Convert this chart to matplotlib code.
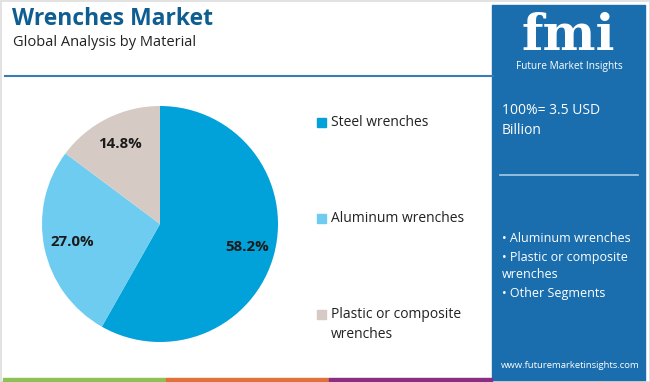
import matplotlib
matplotlib.use("Agg")
import matplotlib.pyplot as plt
from matplotlib.patches import Rectangle

categories = ["Steel wrenches", "Aluminum wrenches", "Plastic or composite\nwrenches"]
shares = [58.2, 27.0, 14.8]
colors = ["#00A2D9", "#6DCCF0", "#D5CAC4"]
panel_bullets = ["• Aluminum wrenches", "• Plastic or composite", "wrenches", "• Other Segments"]
title = "Wrenches Market"
subtitle = "Global Analysis by Material"
total_text = ["100%= 3.5 USD", "Billion"]

W, H = 650, 382
plt.rcParams['font.family'] = ['Open Sans', 'DejaVu Sans']
fig = plt.figure(figsize=(W / 100, H / 100), dpi=100)
fig.patch.set_facecolor("white")

def fx(px):
    return px / W

def fy(py):
    return 1 - py / H

# Light frame
fig.add_artist(Rectangle((fx(0.5), fy(381.5)), 649 / W, 381 / H, fill=False, edgecolor="#DDDDDD",
                         lw=1.2, transform=fig.transFigure))

# Title and subtitle
fig.text(fx(12), fy(19), title, fontsize=16.5, fontweight="bold", color="#0F5E92", va="center", ha="left")
fig.text(fx(13), fy(42), subtitle, fontsize=10.5, color="#222222", va="center", ha="left")
fig.add_artist(plt.Line2D([fx(5), fx(493)], [fy(76), fy(76)], color="#3A7DB5", lw=1.5))

# Pie
cx, cy, r = 160, 224, 118
ax = fig.add_axes([fx(cx - r), fy(cy + r), 2 * r / W, 2 * r / H])
wedges, texts, autotexts = ax.pie(
    shares, colors=colors, startangle=90, counterclock=False,
    autopct=lambda p: f"{p:.1f}%", pctdistance=0.76,
    wedgeprops=dict(linewidth=0),
    textprops=dict(fontsize=10.8, fontweight="bold", color="#1a1a1a"))
ax.set_xlim(-1, 1)
ax.set_ylim(-1, 1)
ax.set_aspect("equal")
ax.axis("off")

# Legend
leg_y = [122, 218, 314]
for cat, col, y in zip(categories, colors, leg_y):
    fig.add_artist(Rectangle((fx(317), fy(y + 4.5)), 9 / W, 9 / H, color=col, transform=fig.transFigure))
    for k, line in enumerate(cat.split("\n")):
        fig.text(fx(331), fy(y + 20 * k), line, fontsize=10, color="#222222", va="center", ha="left")

# Right panel
fig.add_artist(Rectangle((fx(492), 0), (645 - 492) / W, fy(5), color="#1A6EAD", transform=fig.transFigure, zorder=0))
fig.text(fx(568), fy(37), "fmi", fontsize=36, fontweight="bold", family=["DejaVu Serif"], color="white",
         ha="center", va="center")
fig.text(fx(569), fy(67), "Future Market Insights", fontsize=7.3, color="white", ha="center", va="center")
fig.text(fx(502), fy(111), total_text[0], fontsize=10, color="white", ha="left", va="center")
fig.text(fx(502), fy(130), total_text[1], fontsize=10, color="white", ha="left", va="center")
fig.add_artist(plt.Line2D([fx(500), fx(638)], [fy(175), fy(175)], color="#A9CBE6", lw=1.2))
for txt, y in zip(panel_bullets, [239, 257, 275, 294]):
    fig.text(fx(502), fy(y), txt, fontsize=9, color="white", ha="left", va="center")
fig.text(fx(570), fy(366), "www.futuremarketinsights.com", fontsize=6.8, color="white", ha="center", va="center")

# Bottom color bars
for x0, x1, col in [(3, 166, "#8DC156"), (166, 329, "#E2703A"), (329, 492, "#8A2E84")]:
    fig.add_artist(Rectangle((fx(x0), 0), (x1 - x0) / W, 4 / H, color=col, transform=fig.transFigure))

fig.savefig("out.png", dpi=100)
